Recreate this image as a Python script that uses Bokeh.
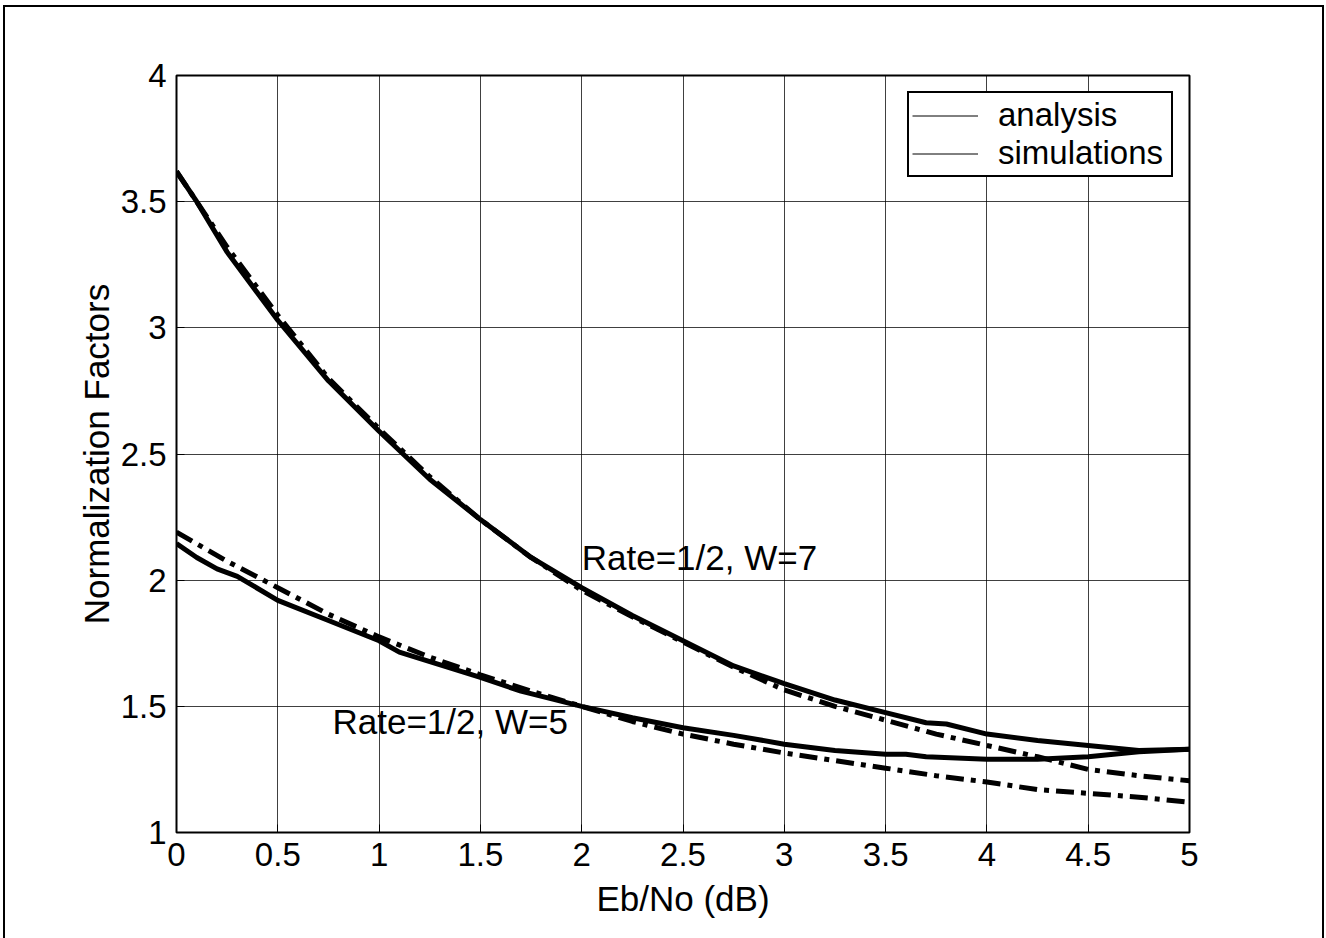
from bokeh.plotting import figure
from bokeh.models import Range1d, FixedTicker, Legend, LegendItem, InlineStyleSheet
from bokeh.core.properties import value
from bokeh.embed import file_html
from bokeh.resources import INLINE

# ---------------- data ----------------
w7_analysis_x = [0, 0.1, 0.25, 0.5, 0.75, 1.0, 1.25, 1.5, 1.75, 2.0, 2.25, 2.5, 2.75,
                 3.0, 3.25, 3.5, 3.7, 3.8, 4.0, 4.25, 4.5, 4.75, 5.0]
w7_analysis_y = [3.62, 3.50, 3.30, 3.03, 2.79, 2.59, 2.40, 2.24, 2.09, 1.97, 1.86, 1.76, 1.66,
                 1.59, 1.525, 1.475, 1.435, 1.43, 1.39, 1.365, 1.345, 1.325, 1.33]

w7_sim_x = [0, 0.25, 0.5, 0.75, 1.0, 1.25, 1.5, 1.75, 2.0, 2.25, 2.5, 2.75,
            3.0, 3.25, 3.5, 3.75, 4.0, 4.25, 4.5, 4.75, 5.0]
w7_sim_y = [3.62, 3.32, 3.05, 2.80, 2.60, 2.41, 2.24, 2.09, 1.96, 1.855, 1.755, 1.655,
            1.565, 1.50, 1.445, 1.39, 1.345, 1.30, 1.25, 1.225, 1.205]

w5_analysis_x = [0, 0.1, 0.2, 0.3, 0.5, 0.75, 1.0, 1.1, 1.5, 1.7, 2.0, 2.25, 2.5, 2.75,
                 3.0, 3.25, 3.5, 3.6, 3.7, 4.0, 4.25, 4.5, 4.75, 5.0]
w5_analysis_y = [2.145, 2.09, 2.045, 2.015, 1.92, 1.84, 1.76, 1.715, 1.615, 1.56, 1.50, 1.455,
                 1.415, 1.385, 1.35, 1.325, 1.31, 1.31, 1.30, 1.29, 1.29, 1.30, 1.32, 1.33]

w5_sim_x = [0, 0.25, 0.5, 0.75, 1.0, 1.25, 1.5, 1.75, 2.0, 2.25, 2.5, 2.75,
            3.0, 3.25, 3.5, 3.75, 4.0, 4.25, 4.5, 4.75, 5.0]
w5_sim_y = [2.19, 2.075, 1.97, 1.865, 1.775, 1.695, 1.625, 1.56, 1.50, 1.44, 1.39, 1.35,
            1.315, 1.285, 1.255, 1.225, 1.20, 1.17, 1.155, 1.14, 1.12]

x_ticks = [0, 0.5, 1, 1.5, 2, 2.5, 3, 3.5, 4, 4.5, 5]
x_tick_labels = ["0", "0.5", "1", "1.5", "2", "2.5", "3", "3.5", "4", "4.5", "5"]
y_ticks = [1, 1.5, 2, 2.5, 3, 3.5, 4]
y_tick_labels = ["1", "1.5", "2", "2.5", "3", "3.5", "4"]

annot_x = [2.0, 0.77]
annot_y = [2.09, 1.44]
annot_text = ["Rate=1/2, W=7", "Rate=1/2, W=5"]

legend_labels = ["analysis", "simulations"]
x_label = "Eb/No (dB)"
y_label = "Normalization Factors"

# ---------------- style ----------------
FONT = "Liberation Sans"
FS = "33px"
FS_BIG = "35px"
LW = 5
DASH = "18 7 5 7"

p = figure(width=1326, height=938, output_backend="svg", toolbar_location=None,
           x_range=Range1d(0, 5), y_range=Range1d(1, 4),
           min_border_left=176, min_border_right=137, min_border_top=75,
           min_border_bottom=106)
p.outline_line_color = "black"
p.outline_line_width = 2
p.outline_line_alpha = 1
p.background_fill_color = "white"
p.border_fill_color = "white"

for ax, ticks, labels in ((p.xaxis[0], x_ticks, x_tick_labels),
                          (p.yaxis[0], y_ticks, y_tick_labels)):
    ax.ticker = FixedTicker(ticks=ticks)
    ax.major_label_overrides = {t: l for t, l in zip(ticks, labels)}
    ax.major_label_text_font = FONT
    ax.major_label_text_font_size = FS
    ax.major_label_text_color = "black"
    ax.axis_label_text_font = FONT
    ax.axis_label_text_font_size = FS_BIG
    ax.axis_label_text_font_style = "normal"
    ax.axis_label_text_color = "black"
    ax.major_tick_in = 8
    ax.major_tick_out = 0
    ax.minor_tick_line_color = None
    ax.axis_line_color = None
    ax.major_tick_line_color = "black"
    ax.major_tick_line_width = 1

p.xaxis[0].axis_label = x_label
p.yaxis[0].axis_label = y_label
p.xaxis[0].major_label_standoff = 10
p.xaxis[0].axis_label_standoff = 10
p.yaxis[0].major_label_standoff = 10
p.yaxis[0].axis_label_standoff = 2

for g, ticks in ((p.xgrid[0], x_ticks), (p.ygrid[0], y_ticks)):
    g.ticker = FixedTicker(ticks=ticks)
    g.grid_line_color = "black"
    g.grid_line_alpha = 0.75
    g.grid_line_width = 1

# curves
p.line(w7_analysis_x, w7_analysis_y, line_color="black", line_width=LW, line_join="round")
p.line(w7_sim_x, w7_sim_y, line_color="black", line_width=LW, line_dash=DASH)
p.line(w5_analysis_x, w5_analysis_y, line_color="black", line_width=LW, line_join="round")
p.line(w5_sim_x, w5_sim_y, line_color="black", line_width=LW, line_dash=DASH)

# annotations
p.text(x=annot_x, y=annot_y, text=annot_text, text_font=value(FONT),
       text_font_size=value(FS_BIG), text_color="black", text_baseline="alphabetic",
       text_align="left")

# legend (thin solid lines as in the reference); proxy lines lie outside the view
r1 = p.line([10, 11], [10, 11], line_color="black", line_width=1)
r2 = p.line([10, 11], [10, 11], line_color="black", line_width=1)
leg = Legend(items=[LegendItem(label=legend_labels[0], renderers=[r1]),
                    LegendItem(label=legend_labels[1], renderers=[r2])],
             location="top_right", margin=16, padding=3, spacing=0,
             label_text_font=FONT, label_text_font_size=FS, label_text_color="black",
             label_standoff=20, label_width=170,
             glyph_width=66, glyph_height=37, label_height=37,
             border_line_color="black", border_line_width=2, border_line_alpha=1.0,
             background_fill_color="white", background_fill_alpha=1.0)
p.add_layout(leg)

# outer frame of the figure window (left, top and right edges visible)
p.stylesheets = [InlineStyleSheet(css="""
:host { position: relative; }
:host::after { content: ''; position: absolute; left: 3px; top: 5px;
  width: 1321px; height: 933px; border-left: 2px solid black;
  border-top: 2px solid black; border-right: 2px solid black;
  box-sizing: border-box; pointer-events: none; }
""")]

open("out.html", "w").write(file_html(p, INLINE))
